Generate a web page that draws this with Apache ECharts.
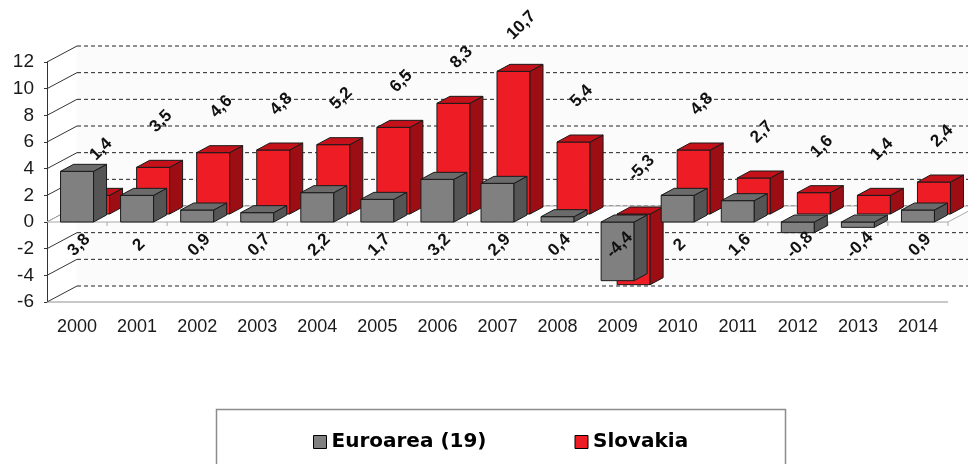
<!DOCTYPE html>
<html>
<head>
<meta charset="utf-8">
<script src="https://cdn.jsdelivr.net/npm/echarts@6/dist/echarts.min.js"></script>
<style>
html, body { margin: 0; padding: 0; background: #fff; }
#chart { width: 968px; height: 464px; }
</style>
</head>
<body>
<div id="chart"></div>
<script>
// 数据
var years = ['2000', '2001', '2002', '2003', '2004', '2005', '2006', '2007',
             '2008', '2009', '2010', '2011', '2012', '2013', '2014'];
var euroarea = [3.8, 2, 0.9, 0.7, 2.2, 1.7, 3.2, 2.9, 0.4, -4.4, 2, 1.6, -0.8, -0.4, 0.9];
var slovakia = [1.4, 3.5, 4.6, 4.8, 5.2, 6.5, 8.3, 10.7, 5.4, -5.3, 4.8, 2.7, 1.6, 1.4, 2.4];
var yTicks = [-6, -4, -2, 0, 2, 4, 6, 8, 10, 12];

// 3D 效果参数
var WALL_DX = 30, WALL_DY = -16;   // 背墙相对前面的偏移
var BAR_DX = 13, BAR_DY = -7;      // 柱子厚度
var ROW2_DX = 16, ROW2_DY = -8;    // 第二排 (Slovakia) 偏移
var BAR_W = 33;

var GRAY = { front: '#808080', side: '#555555', top: '#6b6b6b' };
var RED = { front: '#ee1c25', side: '#9c0e14', top: '#c4111a' };

function fmt(v) {
    return String(v).replace('.', ',');
}

function poly(points, color) {
    return {
        type: 'polygon',
        shape: { points: points },
        style: { fill: color, stroke: '#1a1a1a', lineWidth: 1 }
    };
}

// 画一根立体柱
function boxRenderer(offX, offY, colors) {
    return function (params, api) {
        var i = api.value(0), v = api.value(1);
        var c = api.coord([i, 0]);
        var yT = api.coord([i, Math.max(v, 0)])[1] + offY;
        var yB = api.coord([i, Math.min(v, 0)])[1] + offY;
        var x0 = c[0] - BAR_W / 2 + offX, x1 = x0 + BAR_W;
        return {
            type: 'group',
            children: [
                poly([[x0, yT], [x1, yT], [x1, yB], [x0, yB]], colors.front),
                poly([[x1, yT], [x1 + BAR_DX, yT + BAR_DY], [x1 + BAR_DX, yB + BAR_DY], [x1, yB]], colors.side),
                poly([[x0, yT], [x1, yT], [x1 + BAR_DX, yT + BAR_DY], [x0 + BAR_DX, yT + BAR_DY]], colors.top)
            ]
        };
    };
}

// 背墙、网格线
function wallRenderer(params, api) {
    var t = api.value(0);
    var rect = params.coordSys;
    var left = rect.x, right = rect.x + rect.width;
    var y = api.coord([0, t])[1];
    var children = [];
    if (params.dataIndex === 0) {
        var yTop = api.coord([0, yTicks[yTicks.length - 1]])[1];
        var yBot = api.coord([0, yTicks[0]])[1];
        children.push({
            type: 'polygon',
            shape: { points: [[left + WALL_DX, yTop + WALL_DY], [right + WALL_DX, yTop + WALL_DY],
                              [right + WALL_DX, yBot + WALL_DY], [left + WALL_DX, yBot + WALL_DY]] },
            style: { fill: '#fbfbfb' }
        });
        children.push({
            type: 'line',
            shape: { x1: left, y1: yBot, x2: right, y2: yBot },
            style: { stroke: '#c8c8c8', lineWidth: 2 }
        });
    }
    children.push({
        type: 'line',
        shape: { x1: left + WALL_DX, y1: y + WALL_DY, x2: right + WALL_DX, y2: y + WALL_DY },
        style: { stroke: '#222', lineWidth: 1, lineDash: [4, 3] }
    });
    children.push({
        type: 'line',
        shape: { x1: left, y1: y, x2: left + WALL_DX, y2: y + WALL_DY },
        style: { stroke: '#333', lineWidth: 1 }
    });
    return { type: 'group', children: children };
}

// 地板 (0 平面)
function floorRenderer(params, api) {
    var rect = params.coordSys;
    var left = rect.x, right = rect.x + rect.width;
    var y = api.coord([0, 0])[1];
    var band = api.size([1, 0])[0];
    var children = [{
        type: 'polygon',
        shape: { points: [[left, y], [right, y], [right + WALL_DX, y + WALL_DY], [left + WALL_DX, y + WALL_DY]] },
        style: { fill: '#fff', stroke: '#a8a8a8', lineWidth: 1 }
    }];
    for (var k = 1; k <= years.length; k++) {
        var x = left + band * k;
        children.push({
            type: 'line',
            shape: { x1: x, y1: y, x2: x, y2: y + 4 },
            style: { stroke: '#a8a8a8', lineWidth: 1 }
        });
    }
    return { type: 'group', children: children };
}

// 数据标签
function labelRenderer(params, api) {
    var i = api.value(0), e = api.value(1), s = api.value(2);
    var c = api.coord([i, 0]);
    var ySk = api.coord([i, Math.max(s, 0)])[1] + ROW2_DY;
    var font = 'bold 17px "Liberation Sans", Arial, sans-serif';
    return {
        type: 'group',
        children: [{
            type: 'text',
            x: c[0] + 2, y: c[1] + 23,
            rotation: Math.PI / 4,
            style: { text: fmt(e), font: font, fill: '#111', align: 'center', verticalAlign: 'middle' }
        }, {
            type: 'text',
            x: c[0] + 24, y: ySk - 46,
            rotation: Math.PI / 4,
            style: { text: fmt(s), font: font, fill: '#111', align: 'center', verticalAlign: 'middle' }
        }]
    };
}

var chart = echarts.init(document.getElementById('chart'));

var euroData = euroarea.map(function (v, i) { return [i, v]; });
var skData = slovakia.map(function (v, i) { return [i, v]; });
var labelData = years.map(function (y, i) { return [i, euroarea[i], slovakia[i]]; });

var option = {
    animation: false,
    grid: { left: 47, right: 20, top: 62, bottom: 162 },
    xAxis: {
        type: 'category',
        data: years,
        axisLine: { show: false, onZero: false },
        axisTick: { show: false },
        axisLabel: { margin: 16, fontSize: 18, color: '#1a1a1a', fontFamily: '"Liberation Sans", Arial, sans-serif' },
        splitLine: { show: false }
    },
    yAxis: {
        type: 'value',
        min: -6,
        max: 12,
        interval: 2,
        axisLine: { show: true, lineStyle: { color: '#333', width: 1 } },
        axisTick: { show: true, length: 3, lineStyle: { color: '#333' } },
        axisLabel: { margin: 13, fontSize: 19, color: '#1a1a1a', fontFamily: '"Liberation Sans", Arial, sans-serif' },
        splitLine: { show: false }
    },
    legend: {
        left: 308,
        top: 427,
        itemWidth: 13,
        itemHeight: 13,
        itemGap: 88,
        selectedMode: false,
        textStyle: { fontSize: 20, fontWeight: 'bold', color: '#000', fontFamily: '"DejaVu Sans", Verdana, sans-serif' },
        data: [
            { name: 'Euroarea (19)', icon: 'rect', itemStyle: { color: GRAY.front, borderColor: '#000', borderWidth: 1 } },
            { name: 'Slovakia', icon: 'rect', itemStyle: { color: RED.front, borderColor: '#000', borderWidth: 1 } }
        ]
    },
    graphic: [{
        type: 'rect',
        left: 214,
        top: 407,
        shape: { width: 569, height: 80 },
        style: { fill: 'none', stroke: '#8c8c8c', lineWidth: 1.5 },
        z: -1
    }],
    series: [
        {
            type: 'custom', name: 'wall', z: 1, silent: true,
            renderItem: wallRenderer,
            encode: { y: 0 },
            data: yTicks.map(function (t) { return [t]; })
        },
        {
            type: 'custom', name: 'floor', z: 2, silent: true,
            renderItem: floorRenderer,
            data: [[0]]
        },
        {
            type: 'custom', name: 'Slovakia', z: 3,
            itemStyle: { color: RED.front },
            renderItem: boxRenderer(ROW2_DX, ROW2_DY, RED),
            encode: { x: 0, y: 1 },
            data: skData
        },
        {
            type: 'custom', name: 'Euroarea (19)', z: 4,
            itemStyle: { color: GRAY.front },
            renderItem: boxRenderer(0, 0, GRAY),
            encode: { x: 0, y: 1 },
            data: euroData
        },
        {
            type: 'custom', name: 'labels', z: 5, silent: true,
            renderItem: labelRenderer,
            encode: { x: 0, y: 1 },
            data: labelData
        }
    ]
};

chart.setOption(option);
</script>
</body>
</html>
